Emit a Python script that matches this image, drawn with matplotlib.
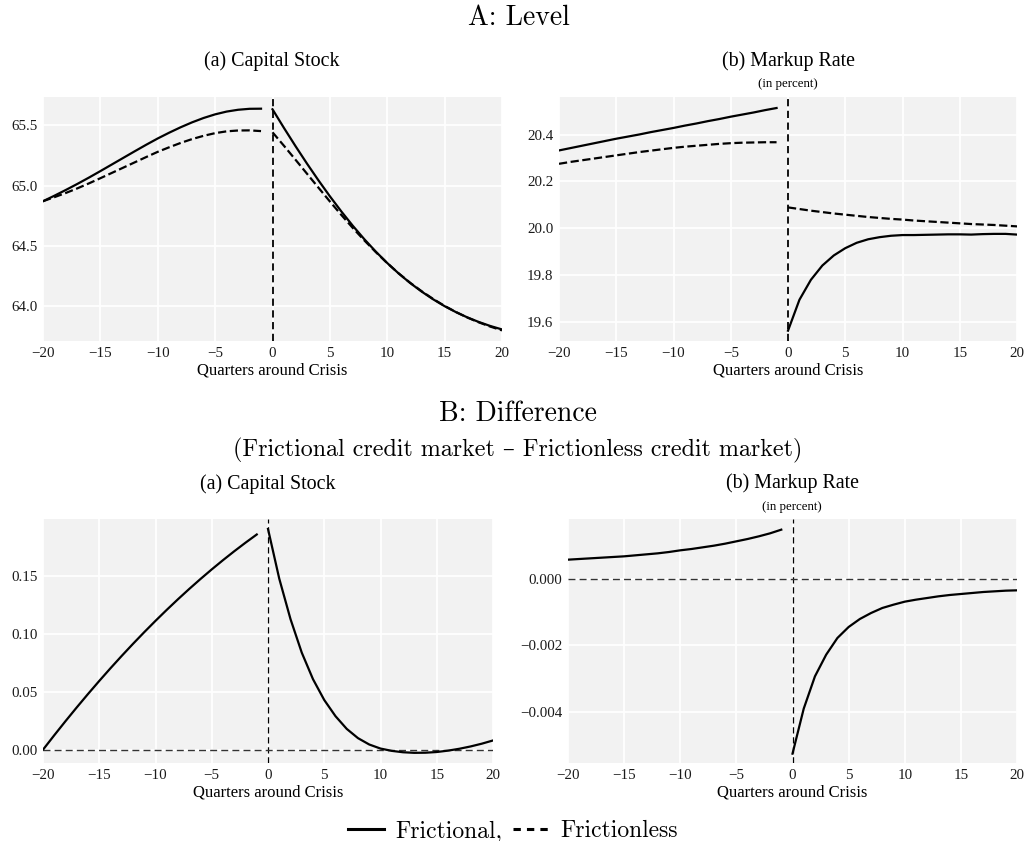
"""
Crisis event study: capital stock and markup rate, frictional vs frictionless credit market
"""

import numpy as np
import matplotlib
matplotlib.use("Agg")
import matplotlib.pyplot as plt
from matplotlib.lines import Line2D

# quarters before / after the crisis
q_pre = np.arange(-20, 0)
q_post = np.arange(0, 21)

# A: levels -- capital stock
capital_fric_pre = [64.870, 64.916, 64.964, 65.014, 65.066, 65.120, 65.175, 65.230, 65.285, 65.339,
                    65.391, 65.439, 65.484, 65.525, 65.561, 65.591, 65.614, 65.629, 65.637, 65.638]
capital_frless_pre = [64.870, 64.904, 64.939, 64.977, 65.018, 65.061, 65.105, 65.149, 65.193, 65.237,
                      65.280, 65.318, 65.354, 65.386, 65.413, 65.435, 65.450, 65.457, 65.458, 65.452]
capital_fric_post = [65.633, 65.478, 65.328, 65.183, 65.044, 64.911, 64.785, 64.666, 64.555, 64.452, 64.357,
                     64.270, 64.191, 64.120, 64.056, 63.999, 63.949, 63.905, 63.867, 63.834, 63.806]
capital_frless_post = [65.442, 65.330, 65.215, 65.099, 64.983, 64.868, 64.756, 64.648, 64.545, 64.448, 64.356,
                       64.271, 64.193, 64.123, 64.059, 64.001, 63.950, 63.904, 63.864, 63.829, 63.798]

# A: levels -- markup rate (in percent)
markup_fric_pre = [20.332, 20.342, 20.352, 20.362, 20.372, 20.382, 20.391, 20.400, 20.410, 20.419,
                   20.428, 20.438, 20.447, 20.457, 20.466, 20.476, 20.485, 20.494, 20.504, 20.513]
markup_frless_pre = [20.275, 20.283, 20.290, 20.297, 20.304, 20.311, 20.318, 20.325, 20.331, 20.337,
                     20.343, 20.348, 20.352, 20.356, 20.360, 20.363, 20.365, 20.366, 20.367, 20.367]
markup_fric_post = [19.563, 19.695, 19.780, 19.841, 19.884, 19.915, 19.938, 19.953, 19.962, 19.968, 19.971,
                    19.971, 19.972, 19.973, 19.974, 19.974, 19.973, 19.975, 19.976, 19.976, 19.973]
markup_frless_post = [20.089, 20.082, 20.075, 20.069, 20.063, 20.058, 20.053, 20.048, 20.044, 20.040, 20.037,
                      20.033, 20.030, 20.027, 20.024, 20.021, 20.018, 20.016, 20.014, 20.011, 20.008]

# B: difference (frictional - frictionless)
capital_diff_pre = [0.0000, 0.0125, 0.0247, 0.0366, 0.0482, 0.0595, 0.0705, 0.0812, 0.0916, 0.1017,
                    0.1115, 0.1210, 0.1302, 0.1391, 0.1477, 0.1560, 0.1640, 0.1717, 0.1791, 0.1862]
capital_diff_post = [0.191, 0.148, 0.113, 0.084, 0.061, 0.043, 0.029, 0.018, 0.010, 0.0045, 0.0010,
                     -0.0010, -0.0022, -0.0027, -0.0026, -0.0020, -0.0008, 0.0008, 0.0028, 0.0052, 0.0080]
markup_diff_pre = [0.00057, 0.00059, 0.00061, 0.00063, 0.00065, 0.00067, 0.00070, 0.00073, 0.00076, 0.00080,
                   0.00085, 0.00089, 0.00094, 0.00099, 0.00105, 0.00112, 0.00119, 0.00127, 0.00136, 0.00147]
markup_diff_post = [-0.00525, -0.00390, -0.00293, -0.00228, -0.00178, -0.00145, -0.00121, -0.00103, -0.00088,
                    -0.00078, -0.00069, -0.00063, -0.00058, -0.00053, -0.00049, -0.00046, -0.00043, -0.00040,
                    -0.00038, -0.00036, -0.00035]

SERIF = ['Liberation Serif', 'DejaVu Serif']
CM = ['cmr10', 'DejaVu Serif']
plt.rcParams['font.family'] = SERIF
plt.rcParams['axes.unicode_minus'] = True

W, H = 1026, 841
fig = plt.figure(figsize=(W / 100, H / 100), dpi=100)


def box(x0, y0, x1, y1):
    # pixel box (from top left) -> figure fraction
    return [x0 / W, 1 - y1 / H, (x1 - x0) / W, (y1 - y0) / H]


def style_axes(ax, ylim, yticks, top):
    ax.set_facecolor('#f2f2f2')
    for s in ax.spines.values():
        s.set_visible(False)
    ax.grid(True, color='white', lw=1.3)
    ax.set_axisbelow(True)
    ax.set_xlim(-20, 20)
    ax.set_ylim(*ylim)
    ax.set_xticks(range(-20, 21, 5))
    ax.set_yticks(yticks)
    ax.tick_params(length=0, labelsize=10.8, labelcolor='#1a1a1a', pad=4)
    ax.ticklabel_format(axis='y', useOffset=False)
    ax.set_xlabel('Quarters around Crisis', fontsize=12, labelpad=2)
    if top:
        ax.axvline(0, color='black', ls='--', lw=1.3, dashes=(4, 2.5), zorder=1)
    else:
        ax.axvline(0, color='black', ls='--', lw=0.9, dashes=(5, 3), zorder=1)
        ax.axhline(0, color='#333333', ls='--', lw=1.0, dashes=(5, 3), zorder=1)


def draw_pair(ax, fric_pre, fric_post, frless_pre=None, frless_post=None):
    ax.plot(q_pre, fric_pre, color='black', lw=1.6, zorder=3)
    ax.plot(q_post, fric_post, color='black', lw=1.6, zorder=3)
    if frless_pre is not None:
        ax.plot(q_pre, frless_pre, color='black', lw=1.6, ls='--', zorder=3)
        ax.plot(q_post, frless_post, color='black', lw=1.6, ls='--', zorder=3)


# A: Level
ax1 = fig.add_axes(box(43, 97, 502, 341))
style_axes(ax1, (63.71, 65.735), [64.0, 64.5, 65.0, 65.5], True)
draw_pair(ax1, capital_fric_pre, capital_fric_post, capital_frless_pre, capital_frless_post)

ax2 = fig.add_axes(box(559, 97, 1017, 341))
style_axes(ax2, (19.519, 20.56), [19.6, 19.8, 20.0, 20.2, 20.4], True)
draw_pair(ax2, markup_fric_pre, markup_fric_post, markup_frless_pre, markup_frless_post)

# B: Difference
ax3 = fig.add_axes(box(43, 519, 493, 763))
style_axes(ax3, (-0.0115, 0.1996), [0.0, 0.05, 0.10, 0.15], False)
draw_pair(ax3, capital_diff_pre, capital_diff_post)

ax4 = fig.add_axes(box(568, 519, 1017, 763))
style_axes(ax4, (-0.00553, 0.00179), [-0.004, -0.002, 0.0], False)
draw_pair(ax4, markup_diff_pre, markup_diff_post)


def ftext(px, py, s, size, family=SERIF):
    fig.text(px / W, 1 - py / H, s, ha='center', va='center', fontsize=size, family=family)


ftext(519, 18, 'A: Level', 20, CM)
ftext(272, 61, '(a) Capital Stock', 14.4)
ftext(788, 61, '(b) Markup Rate', 14.4)
ftext(788, 84, '(in percent)', 9.3)

ftext(518, 414, 'B: Difference', 20, CM)
ftext(518, 450, '(Frictional credit market \u2013 Frictionless credit market)', 17.3, CM)
ftext(268, 484, '(a) Capital Stock', 14.4)
ftext(792, 483, '(b) Markup Rate', 14.4)
ftext(792, 507, '(in percent)', 9.3)

handles = [Line2D([], [], color='black', lw=2.2),
           Line2D([], [], color='black', lw=2.2, ls='--', dashes=(2.4, 2.0))]
fig.legend(handles, ['Frictional,', 'Frictionless'], loc='center', bbox_to_anchor=(0.5, 1 - 831 / H),
           ncol=2, frameon=False, handlelength=1.5, handletextpad=0.5, columnspacing=0.45,
           prop={'family': CM, 'size': 17})

fig.savefig('out.png', dpi=100)
